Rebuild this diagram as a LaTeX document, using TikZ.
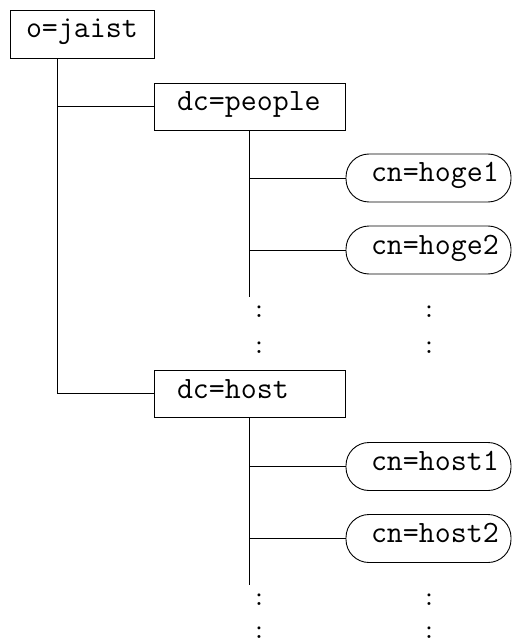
\documentclass[tikz,border=0pt]{standalone}
\usepackage{tikz}
\usetikzlibrary{calc}

\tikzset{
    entry/.style 2 args={draw, rectangle, inner xsep=0pt, inner ysep=0pt,
        text height=28pt, text depth=19pt, align=left, text width=#1,
        execute at begin node={\hspace*{#2}}},
    leaf/.style={entry={165pt}{25pt}, rounded corners=23pt, text depth=20pt},
    dots/.style={inner sep=0pt, anchor=base, font=\ttfamily\fontsize{27}{30}\selectfont}
}

\begin{document}
\begin{tikzpicture}[x=1pt,y=-1pt,line width=0.9pt,font=\ttfamily\fontsize{31}{34}\selectfont]
\useasboundingbox (0,0) rectangle (514,644);

% Root
\node[entry={144pt}{16pt}, text depth=20pt] (jaist) at (82,34) {o=jaist};

% Subtrees
\node[entry={191pt}{23pt}] (people) at (249.5,106.5) {dc=people};
\node[entry={191pt}{23pt}] (host) at (249.5,393.5) {dc=host};

% Leaves
\node[leaf] (hoge1) at (428.5,178) {cn=hoge1};
\node[leaf] (hoge2) at (428.5,250) {cn=hoge2};
\node[leaf] (host1) at (428.5,466.5) {cn=host1};
\node[leaf] (host2) at (428.5,538.5) {cn=host2};

% Trunks
\coordinate (jtop) at ($(jaist.south west)+(48,0)$);
\coordinate (pend) at (people.south |- 0,297);
\coordinate (hend) at (host.south |- 0,585);

\draw (jtop) |- (host.west);
\draw (jtop |- people.west) -- (people.west);

\draw (people.south) -- (pend);
\draw (people.south |- hoge1.west) -- (hoge1.west);
\draw (people.south |- hoge2.west) -- (hoge2.west);

\draw (host.south) -- (hend);
\draw (host.south |- host1.west) -- (host1.west);
\draw (host.south |- host2.west) -- (host2.west);

% Continuation dots
\foreach \y/\n in {317.5/a, 353.5/b, 605.5/c, 638.5/d} {
    \node[dots] (l\n) at (259,\y) {:};
    \node[dots] (r\n) at (429,\y) {:};
}

\end{tikzpicture}
\end{document}
